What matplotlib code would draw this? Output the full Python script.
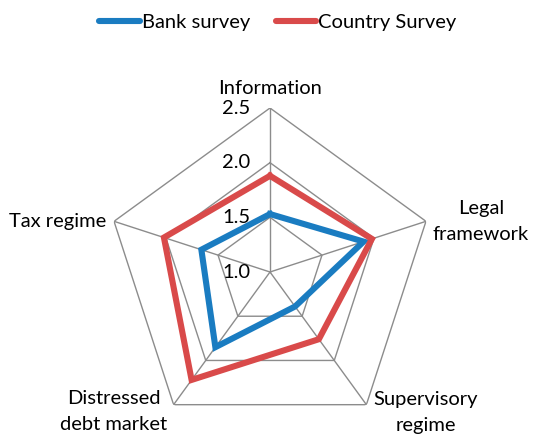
import numpy as np
import matplotlib
matplotlib.use('Agg')
import matplotlib.pyplot as plt
from matplotlib.lines import Line2D

plt.rcParams['font.family'] = ['Lato', 'DejaVu Sans']

categories = ['Information', 'Legal\nframework', 'Supervisory\nregime',
              'Distressed\ndebt market', 'Tax regime']
bank_survey = [1.53, 1.90, 1.39, 1.85, 1.66]
country_survey = [1.88, 1.98, 1.76, 2.22, 2.02]
r_ticks = [1.0, 1.5, 2.0, 2.5]
r_min, r_max = 1.0, 2.5

BLUE = '#1a7cc1'
RED = '#d94a4a'
GRID = '#8c8c8c'
FS = 14.5
LW = 4.4

W, H, DPI = 536, 434, 100
fig = plt.figure(figsize=(W / DPI, H / DPI), dpi=DPI)

# polar axes centred on the radar origin
cx, cy, R = 270, 272, 164
ax = fig.add_axes([(cx - R) / W, (H - cy - R) / H, 2 * R / W, 2 * R / H],
                  projection='polar')
ax.set_theta_offset(np.pi / 2)
ax.set_theta_direction(-1)
ax.set_ylim(r_min, r_max)
ax.axis('off')

n = len(categories)
theta = np.linspace(0, 2 * np.pi, n, endpoint=False)
theta_closed = np.append(theta, theta[0])

# pentagon grid and spokes
for r in r_ticks[1:]:
    ax.plot(theta_closed, [r] * (n + 1), color=GRID, lw=1.0, zorder=1)
for t in theta:
    ax.plot([t, t], [r_min, r_max], color=GRID, lw=1.0, zorder=1)

# radial tick labels along the top spoke
for r in r_ticks:
    ax.annotate(f'{r:.1f}', xy=(0, r), xytext=(-20, 0),
                textcoords='offset pixels', ha='right', va='center',
                fontsize=FS, color='black')

ax.plot(theta_closed, bank_survey + bank_survey[:1], color=BLUE, lw=LW,
        solid_joinstyle='miter', zorder=3)
ax.plot(theta_closed, country_survey + country_survey[:1], color=RED, lw=LW,
        solid_joinstyle='miter', zorder=3)

# category labels
label_style = [
    ((0, 20), 'center', 'center'),
    ((7, 0), 'left', 'center'),
    ((7, -8), 'left', 'center'),
    ((-6, -7), 'right', 'center'),
    ((-8, 0), 'right', 'center'),
]
for t, lab, (off, ha, va) in zip(theta, categories, label_style):
    ax.annotate(lab, xy=(t, r_max), xytext=off, textcoords='offset pixels',
                ha=ha, va=va, multialignment='center', fontsize=FS,
                linespacing=1.6, color='black', annotation_clip=False)

handles = [Line2D([], [], color=BLUE, lw=LW, solid_capstyle='round'),
           Line2D([], [], color=RED, lw=LW, solid_capstyle='round')]
fig.legend(handles, ['Bank survey', 'Country Survey'], loc='center',
           bbox_to_anchor=(0.5 + 10 / W, 1 - 22 / H), ncol=2, frameon=False,
           fontsize=FS, handlelength=2.0, handletextpad=0.1,
           columnspacing=1.3)

fig.savefig('out.png', dpi=DPI)
